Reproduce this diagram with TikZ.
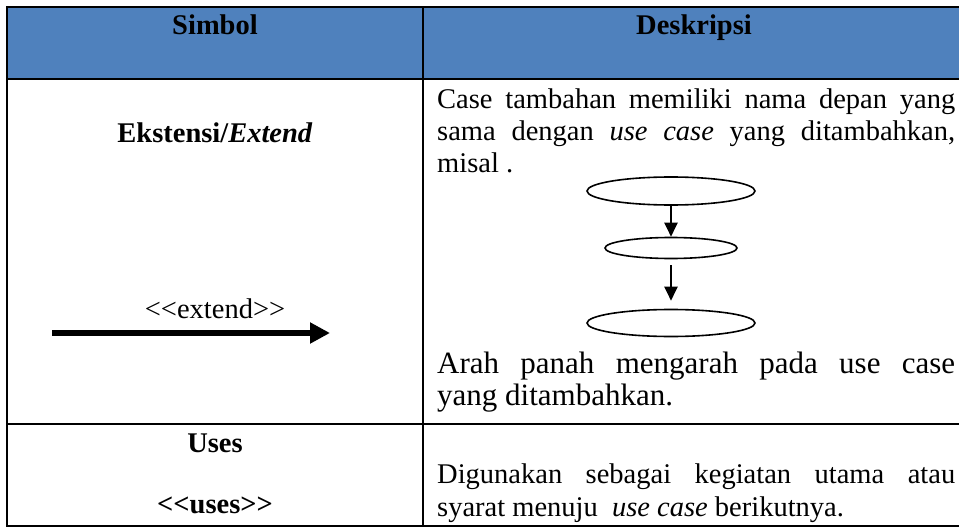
\documentclass[tikz,border=0pt]{standalone}
\usepackage{fontspec}
\setmainfont{Liberation Serif}
\usetikzlibrary{arrows.meta,shapes.geometric}
\definecolor{HeadBlue}{RGB}{79,129,189}
\definecolor{Ink}{RGB}{0,0,0}
\newcommand{\jline}[1]{\makebox[518pt][s]{#1}}
\tikzset{
  >=Latex,
  cellrule/.style={draw=Ink,line width=1.5pt},
  txt/.style={inner sep=0pt,font=\fontsize{28.5}{32}\selectfont,text=Ink},
  headtxt/.style={txt,font=\fontsize{28.5}{32}\selectfont\bfseries,anchor=base},
  lefttxt/.style={txt,anchor=base west},
  usecase/.style={ellipse,draw=Ink,line width=1.6pt,inner sep=0pt},
  ucflow/.style={-{Triangle[length=14pt,width=13pt]},line width=2.2pt,draw=Ink},
  extflow/.style={-{Triangle[length=20pt,width=20pt]},line width=6.5pt,draw=Ink}
}
\begin{document}
\begin{tikzpicture}[x=1pt,y=-1pt]
  \useasboundingbox (0,0) rectangle (959,527);
  \clip (0,0) rectangle (959,527);
  % header band and table rules
  \fill[HeadBlue] (7,7) rectangle (965,79);
  \draw[cellrule] (7,7) rectangle (965,526);
  \draw[cellrule] (7,79) -- (965,79);
  \draw[cellrule] (7,424) -- (965,424);
  \draw[cellrule] (423,7) -- (423,526);
  % header
  \node[headtxt] (hsim) at (215,35) {Simbol};
  \node[headtxt] (hdes) at (694,35) {Deskripsi};
  % row 1: extend
  \node[headtxt] (ext) at (215,142) {Ekstensi/\textit{Extend}};
  \node[txt,anchor=base] (extlbl) at (215,318) {<\kern0pt<extend>\kern0pt>};
  \coordinate (extA) at (52,333);
  \coordinate (extB) at (330,333);
  \draw[extflow] (extA) -- (extB);
  \node[lefttxt] (d1) at (437,108) {\jline{Case tambahan memiliki nama depan yang}};
  \node[lefttxt] (d2) at (437,140) {\jline{sama dengan \textit{use case} yang ditambahkan,}};
  \node[lefttxt] (d3) at (437,172) {misal .};
  \node[usecase,minimum width=168pt,minimum height=28pt] (uc1) at (671,191) {};
  \node[usecase,minimum width=132pt,minimum height=21pt] (uc2) at (671,248) {};
  \node[usecase,minimum width=168pt,minimum height=27pt] (uc3) at (671,323) {};
  \draw[ucflow] (uc1) -- (uc2);
  \draw[ucflow,shorten <=6pt,shorten >=8pt] (uc2) -- (uc3);
  \node[lefttxt,font=\fontsize{31}{32}\selectfont] (a1) at (437,373) {\jline{Arah panah mengarah pada use case}};
  \node[lefttxt,font=\fontsize{31}{32}\selectfont] (a2) at (437,405) {yang ditambahkan.};
  % row 2: uses
  \node[headtxt] (uses) at (215,452) {Uses};
  \node[headtxt] (useslbl) at (215,513) {<\kern0pt<uses>\kern0pt>};
  \node[lefttxt] (g1) at (437,483) {\jline{Digunakan sebagai kegiatan utama atau}};
  \node[lefttxt] (g2) at (437,516) {syarat menuju\ \ \textit{use case} berikutnya.};
\end{tikzpicture}
\end{document}
